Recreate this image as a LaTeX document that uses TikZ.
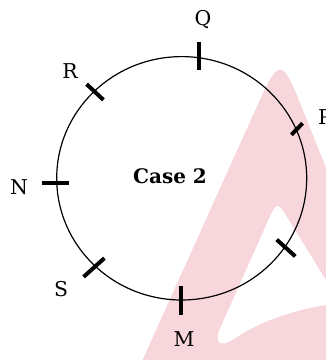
\documentclass[tikz,border=0pt]{standalone}
\usepackage{fontspec}
\setmainfont{DejaVu Serif}
\definecolor{wmpink}{RGB}{248,215,220}
\tikzset{
  seat/.style={line width=2pt},
  seatlabel/.style={font=\fontsize{10.2}{12}\selectfont, inner sep=0pt},
}
\begin{document}
\begin{tikzpicture}[x=0.5pt,y=-0.5pt]
    \useasboundingbox (0,0) rectangle (326,360);
    \clip (0,0) rectangle (326,360);
    % Watermark
    \fill[wmpink] (129,390) -- (252.6,116) .. controls (280.5,54) .. (305.3,116) -- (371,280) -- (371,390) -- cycle;
    \fill[white] (340,303) -- (289.4,221) .. controls (277,201) .. (268,221) -- (219,331)
        .. controls (214,343) and (222,347) .. (232,340) .. controls (265,318) and (300,308) .. (340,303) -- cycle;
    % Table
    \draw[line width=0.6pt] (181.7,178.3) ellipse [x radius=125, y radius=121.7];
    % Seats
    \coordinate (q) at (199,56);
    \coordinate (r) at (95,92);
    \coordinate (n) at (55.5,183);
    \coordinate (s) at (94,267.5);
    \coordinate (m) at (181,300.5);
    \coordinate (u) at (286,248);
    \coordinate (p) at (297,129);
    \foreach \seat/\ang/\len in {q/90/28, r/43/23, n/0/27, s/-42/28, m/90/29, u/42/25, p/-46/16}
        \draw[seat] (\seat) ++({\ang}:{-0.5*\len}) -- ++({\ang}:{\len});
    % Labels
    \node[seatlabel] (lq) at (203,20) {Q};
    \node[seatlabel] (lr) at (70,71) {R};
    \node[seatlabel] (lp) at (325,117.5) {P};
    \node[seatlabel] (ln) at (19,187.5) {N};
    \node[seatlabel] (ls) at (61,289) {S};
    \node[seatlabel] (lm) at (184,339) {M};
    \node[font=\bfseries\fontsize{10}{12}\selectfont] (case) at (170,176) {Case 2};
\end{tikzpicture}
\end{document}
